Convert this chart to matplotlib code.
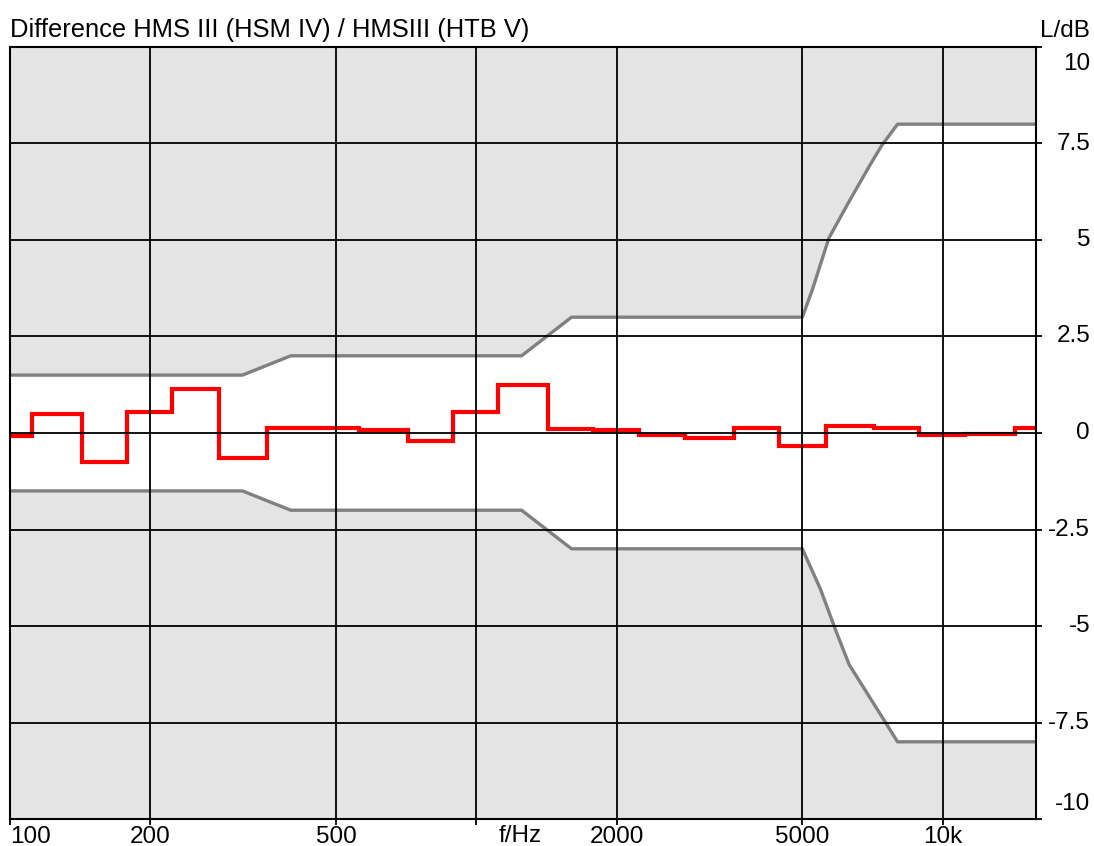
import numpy as np
import matplotlib
matplotlib.use("Agg")
import matplotlib.pyplot as plt
from matplotlib.transforms import blended_transform_factory, ScaledTranslation

plt.rcParams['font.family'] = ['Liberation Sans', 'DejaVu Sans']

# ---- data ----
band_centers = [100, 125, 160, 200, 250, 315, 400, 500, 630, 800, 1000, 1250,
                1600, 2000, 2500, 3150, 4000, 5000, 6300, 8000, 10000, 12500, 16000]
difference_db = [-0.08, 0.48, -0.75, 0.55, 1.15, -0.65, 0.14, 0.14, 0.09, -0.2, 0.55, 1.25,
                 0.1, 0.08, -0.05, -0.12, 0.14, -0.33, 0.18, 0.14, -0.05, -0.03, 0.13]

upper_freq = [89, 315, 400, 1250, 1600, 5000, 5250, 5700, 6300, 6950, 7400, 8000, 18000]
upper_db = [1.5, 1.5, 2.0, 2.0, 3.0, 3.0, 3.7, 5.05, 6.0, 6.9, 7.45, 8.0, 8.0]
lower_freq = [89, 315, 400, 1250, 1600, 5000, 5470, 5890, 6300, 7540, 8000, 18000]
lower_db = [-1.5, -1.5, -2.0, -2.0, -3.0, -3.0, -4.05, -5.1, -6.0, -7.5, -8.0, -8.0]

x_ticks = [100, 200, 500, 1000, 2000, 5000, 10000]
x_tick_labels = ['100', '200', '500', '', '2000', '5000', '10k']
y_ticks = [10, 7.5, 5, 2.5, 0, -2.5, -5, -7.5, -10]
y_tick_labels = ['10', '7.5', '5', '2.5', '0', '-2.5', '-5', '-7.5', '-10']

title = 'Difference HMS III (HSM IV) / HMSIII (HTB V)'
x_label = 'f/Hz'
y_label = 'L/dB'

# ---- figure ----
W, H = 1094, 846
fig = plt.figure(figsize=(W / 100, H / 100), dpi=100)
left, right, top, bottom = 10, 1036, 47, 819
ax = fig.add_axes([left / W, 1 - bottom / H, (right - left) / W, (bottom - top) / H])

FS = 17.5
FS_TITLE = 18.4
ymin, ymax = -10, 10
xmin, xmax = 100, 10 ** 4.2

ax.set_xscale('log')
ax.set_xlim(xmin, xmax)
ax.set_ylim(ymin, ymax)

# tolerance shading
ax.fill_between(upper_freq, upper_db, ymax, color='#e4e4e4', lw=0, zorder=1)
ax.fill_between(lower_freq, lower_db, ymin, color='#e4e4e4', lw=0, zorder=1)
ax.plot(upper_freq, upper_db, color='#808080', lw=2.4, zorder=2)
ax.plot(lower_freq, lower_db, color='#808080', lw=2.4, zorder=2)

# third-octave step curve
centers = np.array(band_centers, dtype=float)
edges = np.concatenate([centers * 2 ** (-1 / 6), [centers[-1] * 2 ** (1 / 6)]])
ax.stairs(difference_db, edges, color='#ff0000', lw=3.0, baseline=None, zorder=2.2)

# grid above data
ax.set_axisbelow(False)
ax.set_xticks(x_ticks)
ax.set_xticklabels(x_tick_labels)
ax.xaxis.set_minor_locator(matplotlib.ticker.NullLocator())
ax.set_yticks(y_ticks)
ax.grid(True, which='major', color='black', lw=1.3)

for s in ax.spines.values():
    s.set_color('black')
    s.set_linewidth(1.5)

ax.tick_params(axis='x', which='both', direction='out', length=4, width=1.3,
               pad=1, labelsize=FS, colors='black')
ax.tick_params(axis='y', which='both', direction='out', length=4, width=1.3,
               left=False, right=True, labelleft=False, labelright=False)

lbls = ax.get_xticklabels()
lbls[0].set_ha('left')

# y labels on the right, right-aligned
trans = blended_transform_factory(fig.transFigure, ax.transData)
for v, t in zip(y_ticks, y_tick_labels):
    va = 'center'
    off = 0
    if v == ymax:
        va = 'top'; off = -6
    elif v == ymin:
        va = 'bottom'; off = 4
    ax.text(1090 / W, v, t, transform=trans + ScaledTranslation(0, off / 100, fig.dpi_scale_trans),
            ha='right', va=va, fontsize=FS, clip_on=False)

# f/Hz label
ax.text(520 / W, ymin, x_label, transform=trans + ScaledTranslation(0, -5.5 / 100, fig.dpi_scale_trans),
        ha='center', va='top', fontsize=FS, clip_on=False)

fig.text(10 / W, 1 - 37 / H, title, ha='left', va='baseline', fontsize=FS_TITLE)
fig.text(1090 / W, 1 - 37 / H, y_label, ha='right', va='baseline', fontsize=FS)

fig.savefig('out.png', dpi=100)
